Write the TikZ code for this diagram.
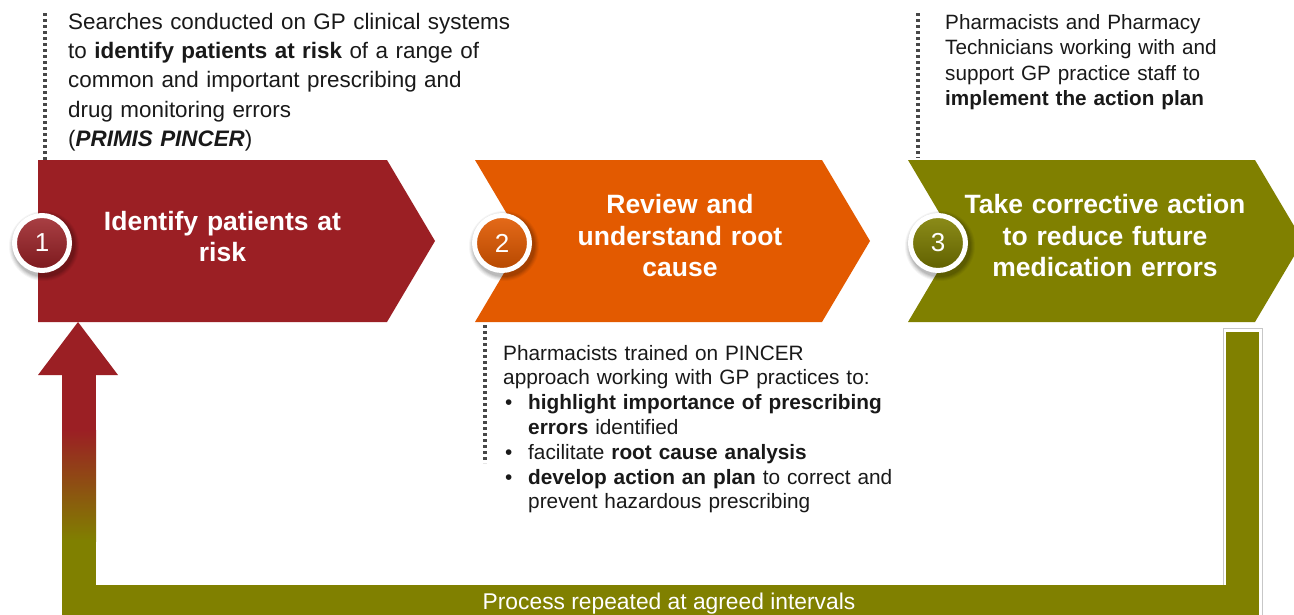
\documentclass[tikz,border=0pt]{standalone}
\usepackage{fontspec}
\setmainfont{Liberation Sans}
\definecolor{cred}{RGB}{155,31,36}
\definecolor{corange}{RGB}{227,90,0}
\definecolor{colive}{RGB}{128,128,0}
\definecolor{ctext}{RGB}{25,25,25}
\newcommand\mybadgeshadow[2]{%
  \foreach \r/\o in {35/0.04,34/0.05,33/0.06,32/0.07,31/0.08}{%
    \fill[black,opacity=\o] (#1+2,#2+3) circle[radius=\r pt];}}
\begin{document}
\begin{tikzpicture}[x=1pt,y=-1pt,
  title/.style={text=white, font=\bfseries\fontsize{26.5}{31.7}\selectfont, align=center, text width=320pt, inner sep=0pt, anchor=base},
  body/.style={text=ctext, align=left, inner sep=0pt, anchor=base west, text width=480pt},
  badge/.style={circle, draw=white, line width=5pt, minimum size=55pt, inner sep=0pt, text=white, font=\fontsize{26}{30}\selectfont},
  dots/.style={draw=black!72, line width=3.2pt, dash pattern=on 3.2pt off 2.8pt},
  frame/.style={draw=black!22, line width=0.7pt},
  ]
\useasboundingbox (0,0) rectangle (1294,614);
\clip (0,0) rectangle (1294,614);
\fill[white] (0,0) rectangle (1294,614);

% dotted leader lines
\coordinate (d1a) at (45,13);  \coordinate (d1b) at (45,160);
\coordinate (d2a) at (485,313); \coordinate (d2b) at (485,463);
\coordinate (d3a) at (918,13); \coordinate (d3b) at (918,158);
\draw[dots] (d1a) -- (d1b);
\draw[dots] (d2a) -- (d2b);
\draw[dots] (d3a) -- (d3b);

% chevrons
\fill[cred] (38,160) -- (387,160) -- (435,241) -- (387,322) -- (38,322) -- cycle;
\fill[corange] (475,160) -- (822,160) -- (870,241) -- (822,322) -- (475,322) -- (523,241) -- cycle;
\fill[colive] (908,160) -- (1255,160) -- (1303,241) -- (1255,322) -- (908,322) -- (956,241) -- cycle;

% return loop
\draw[frame] (1223,328) rectangle (1262,620);
\fill[cred] (38,375) -- (78,322) -- (118,375) -- cycle;
\fill[cred] (62,374) rectangle (96,431);
\shade[top color=cred, bottom color=colive] (62,430) rectangle (96,541);
\fill[colive] (62,540) rectangle (96,620);
\fill[colive] (62,585) rectangle (1259,620);
\fill[colive] (1226,332) rectangle (1259,620);

% badges
\mybadgeshadow{42}{243}
\mybadgeshadow{502}{243}
\mybadgeshadow{938}{243}
\node[badge, top color=cred!85!white, bottom color=cred!80!black] (n1) at (42,243) {1};
\node[badge, top color=corange!90!white, bottom color=corange!80!black] (n2) at (502,243) {2};
\node[badge, top color=colive!90!white, bottom color=colive!75!black] (n3) at (938,243) {3};

% titles
\node[title] (t1) at (222.5,230) {Identify patients at\\risk};
\node[title] (t2) at (680,213.3) {Review and\\understand root\\cause};
\node[title] (t3) at (1105,213.3) {Take corrective action\\to reduce future\\medication errors};

% descriptions
\node[body, font=\fontsize{22.4}{29.4}\selectfont] (s1) at (68,29)
 {Searches conducted on GP clinical systems\\
  to \textbf{identify patients at risk} of a range of\\
  common and important prescribing and\\
  drug monitoring errors\\
  (\textbf{\textit{PRIMIS PINCER}})};
\node[body, font=\fontsize{20.8}{24.8}\selectfont] (s2) at (503,360)
 {Pharmacists trained on PINCER\\
  approach working with GP practices to:\\
  \hspace*{2pt}\makebox[23pt][l]{•}\textbf{highlight importance of prescribing}\\
  \hspace*{25pt}\textbf{errors} identified\\
  \hspace*{2pt}\makebox[23pt][l]{•}facilitate \textbf{root cause analysis}\\
  \hspace*{2pt}\makebox[23pt][l]{•}\textbf{develop action an plan} to correct and\\
  \hspace*{25pt}prevent hazardous prescribing};
\node[body, font=\fontsize{20.7}{25.5}\selectfont] (s3) at (945,29)
 {Pharmacists and Pharmacy\\
  Technicians working with and\\
  support GP practice staff to\\
  \textbf{implement the action plan}};

\node[text=white, font=\fontsize{22.8}{26}\selectfont, inner sep=0pt, anchor=base] (loop) at (669,609) {Process repeated at agreed intervals};
\end{tikzpicture}
\end{document}
